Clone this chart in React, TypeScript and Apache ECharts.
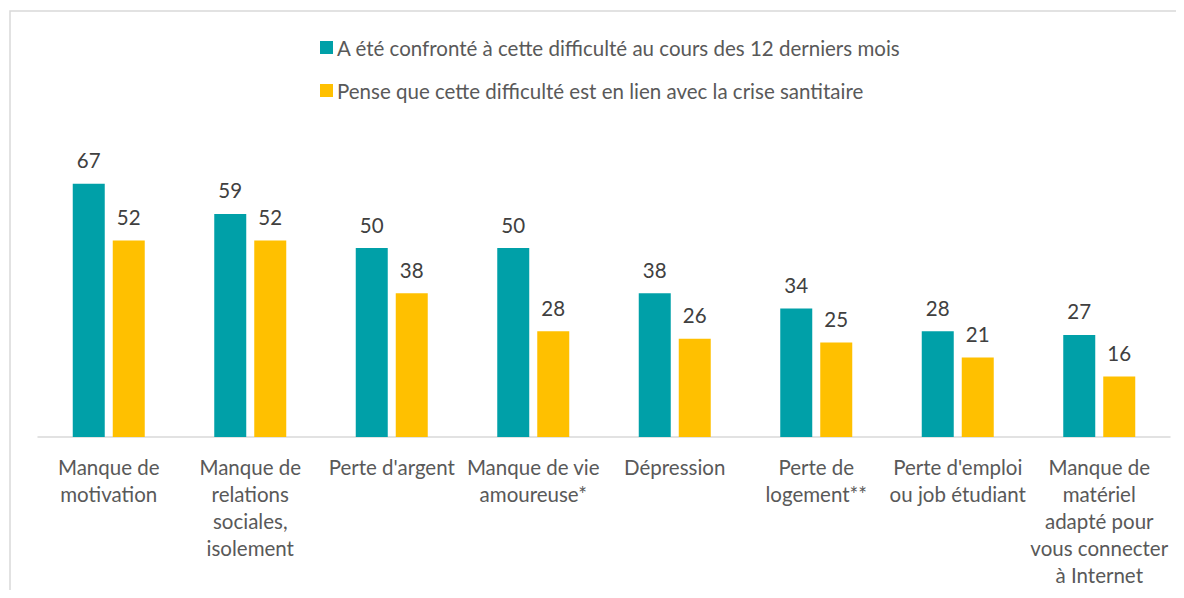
import React, { useEffect, useRef } from "react";
import * as echarts from "echarts";

const categories = [
  "Manque de\nmotivation",
  "Manque de\nrelations\nsociales,\nisolement",
  "Perte d'argent",
  "Manque de vie\namoureuse*",
  "Dépression",
  "Perte de\nlogement**",
  "Perte d'emploi\nou job étudiant",
  "Manque de\nmatériel\nadapté pour\nvous connecter\nà Internet",
];
const seriesNames = [
  "A été confronté à cette difficulté au cours des 12 derniers mois",
  "Pense que cette difficulté est en lien avec la crise santitaire",
];
const confronted = [67, 59, 50, 50, 38, 34, 28, 27];
const linkedToCrisis = [52, 52, 38, 28, 26, 25, 21, 16];

const FONT = "Lato, 'Liberation Sans', sans-serif";

export default function App() {
  const ref = useRef<HTMLDivElement>(null);
  useEffect(() => {
    if (!ref.current) return;
    const chart = echarts.init(ref.current, undefined, { renderer: "svg" });
    chart.setOption({
      animation: false,
      textStyle: { fontFamily: FONT },
      graphic: [
        {
          type: "rect",
          shape: { x: 2, y: 3, width: 1300, height: 700 },
          style: { fill: "none", stroke: "#D9D9D9", lineWidth: 1.5 },
          silent: true,
        },
      ],
      legend: {
        orient: "vertical",
        left: 307,
        top: 24,
        itemWidth: 13,
        itemHeight: 13,
        itemGap: 22,
        icon: "rect",
        textStyle: {
          fontFamily: FONT,
          fontSize: 20.5,
          color: "#595959",
          lineHeight: 20,
          padding: [0, 0, 0, -1],
        },
        data: seriesNames,
      },
      grid: { left: 30, right: 6, top: 126.6, bottom: 161, containLabel: false },
      xAxis: {
        type: "category",
        data: categories,
        axisLine: { lineStyle: { color: "#D9D9D9", width: 1.5 } },
        axisTick: { show: false },
        axisLabel: {
          interval: 0,
          margin: 16,
          fontFamily: FONT,
          fontSize: 20.5,
          lineHeight: 27,
          color: "#595959",
          align: "center",
          verticalAlign: "top",
        },
      },
      yAxis: {
        type: "value",
        min: 0,
        max: 80,
        show: false,
        splitLine: { show: false },
      },
      series: [
        {
          name: seriesNames[0],
          type: "bar",
          data: confronted,
          barWidth: 32,
          barGap: "25%",
          itemStyle: { color: "#00A0A8" },
          label: {
            show: true,
            position: "top",
            distance: 13,
            fontFamily: FONT,
            fontSize: 20.5,
            color: "#404040",
          },
        },
        {
          name: seriesNames[1],
          type: "bar",
          data: linkedToCrisis,
          barWidth: 32,
          itemStyle: { color: "#FFC000" },
          label: {
            show: true,
            position: "top",
            distance: 13,
            fontFamily: FONT,
            fontSize: 20.5,
            color: "#404040",
          },
        },
      ],
    });
    return () => chart.dispose();
  }, []);
  return <div ref={ref} style={{ width: 1168, height: 590, marginBottom: -8 }} />;
}
